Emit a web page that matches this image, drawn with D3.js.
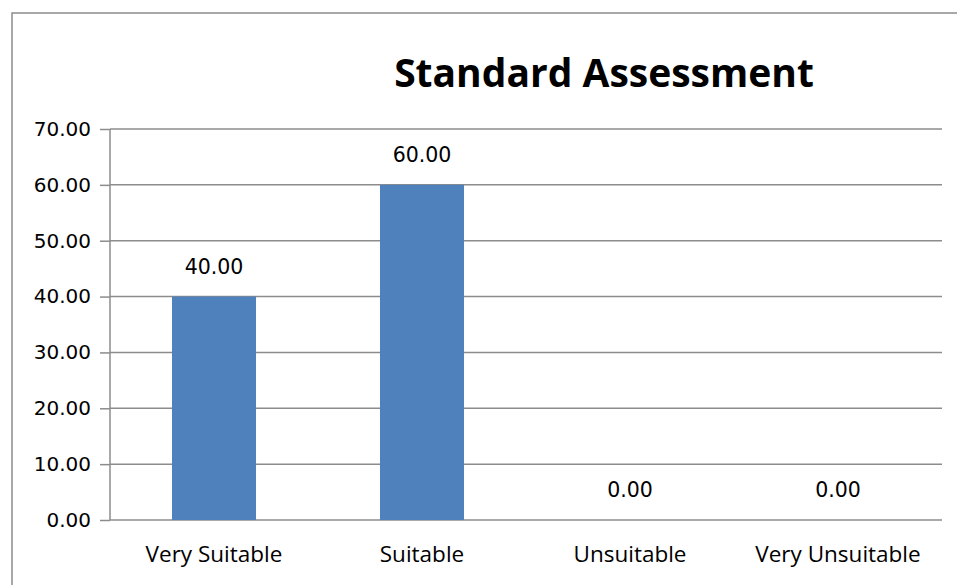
<!DOCTYPE html>
<html>
<head>
<meta charset="utf-8">
<script src="https://cdn.jsdelivr.net/npm/d3@7"></script>
<style>
  body { margin: 0; background: #fff; }
</style>
</head>
<body>
<div id="chart"></div>
<script>
const categories = ["Very Suitable", "Suitable", "Unsuitable", "Very Unsuitable"];
const values = [40, 60, 0, 0];
const yTicks = [0, 10, 20, 30, 40, 50, 60, 70];

const width = 957;
const height = 585;
const margin = { top: 129, right: 15, bottom: 65, left: 110 };

const svg = d3.select("#chart").append("svg")
  .attr("width", width)
  .attr("height", height)
  .style("display", "block");

// outer frame (only top and left edges show)
svg.append("rect")
  .attr("x", 12).attr("y", 13)
  .attr("width", width).attr("height", height)
  .attr("fill", "none")
  .attr("stroke", "#8c8c8c")
  .attr("stroke-width", 1.5);

const x = d3.scaleBand()
  .domain(categories)
  .range([margin.left, width - margin.right])
  .padding(0);

const y = d3.scaleLinear()
  .domain([0, 70])
  .range([height - margin.bottom, margin.top]);

// gridlines + y ticks
const yAxis = svg.append("g")
  .attr("transform", `translate(${margin.left},0)`)
  .call(d3.axisLeft(y)
    .tickValues(yTicks)
    .tickSize(10)
    .tickPadding(9)
    .tickFormat(d3.format(".2f")));

yAxis.select(".domain").remove();
yAxis.selectAll(".tick line")
  .attr("stroke", "#8c8c8c")
  .attr("stroke-width", 1.5);
yAxis.selectAll(".tick text")
  .attr("font-family", "DejaVu Sans")
  .attr("font-size", 20)
  .attr("fill", "#000");

svg.append("g")
  .selectAll("line")
  .data(yTicks)
  .join("line")
  .attr("x1", margin.left)
  .attr("x2", width - margin.right)
  .attr("y1", d => y(d))
  .attr("y2", d => y(d))
  .attr("stroke", "#8c8c8c")
  .attr("stroke-width", 1.5);

// y axis line
svg.append("line")
  .attr("x1", margin.left).attr("x2", margin.left)
  .attr("y1", y(70)).attr("y2", y(0))
  .attr("stroke", "#8c8c8c")
  .attr("stroke-width", 1.5);

const barW = x.bandwidth() * 0.404;

svg.append("g")
  .selectAll("rect")
  .data(values)
  .join("rect")
  .attr("x", (d, i) => x(categories[i]) + (x.bandwidth() - barW) / 2)
  .attr("y", d => y(d))
  .attr("width", barW)
  .attr("height", d => y(0) - y(d))
  .attr("fill", "#4f81bd");

// value labels
svg.append("g")
  .selectAll("text")
  .data(values)
  .join("text")
  .attr("x", (d, i) => x(categories[i]) + x.bandwidth() / 2)
  .attr("y", d => y(d) - 23)
  .attr("text-anchor", "middle")
  .attr("font-family", "DejaVu Sans")
  .attr("font-size", 20.5)
  .attr("fill", "#000")
  .text(d => d3.format(".2f")(d));

// category labels
svg.append("g")
  .selectAll("text")
  .data(categories)
  .join("text")
  .attr("x", d => x(d) + x.bandwidth() / 2)
  .attr("y", 562)
  .attr("text-anchor", "middle")
  .attr("font-family", "Open Sans")
  .attr("font-size", 22.5)
  .attr("fill", "#000")
  .text(d => d);

// title
svg.append("text")
  .attr("x", 604)
  .attr("y", 87)
  .attr("text-anchor", "middle")
  .attr("font-family", "Open Sans")
  .attr("font-weight", "bold")
  .attr("font-size", 39)
  .attr("fill", "#000")
  .text("Standard Assessment");
</script>
</body>
</html>
